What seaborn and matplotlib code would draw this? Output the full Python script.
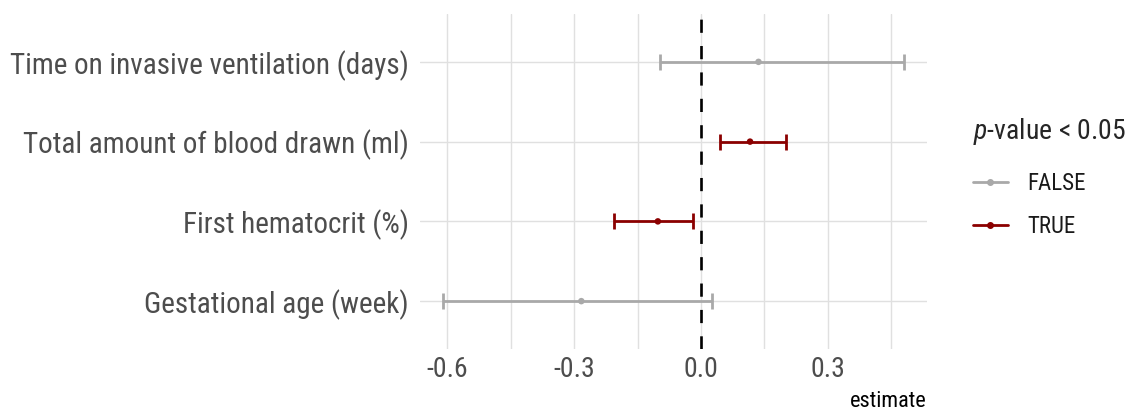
import numpy as np
import pandas as pd
import seaborn as sns
import matplotlib.pyplot as plt
from matplotlib import font_manager
from matplotlib.lines import Line2D

# Data, bottom row first
variables = [
    "Gestational age (week)",
    "First hematocrit (%)",
    "Total amount of blood drawn (ml)",
    "Time on invasive ventilation (days)",
]
estimate = [-0.283, -0.102, 0.116, 0.136]
conf_low = [-0.610, -0.205, 0.046, -0.096]
conf_high = [0.025, -0.018, 0.201, 0.480]
significant = [False, True, True, False]

x_ticks = [-0.6, -0.3, 0.0, 0.3]
x_tick_labels = ["-0.6", "-0.3", "0.0", "0.3"]

df = pd.DataFrame({
    "term": variables,
    "estimate": estimate,
    "low": conf_low,
    "high": conf_high,
    "sig": ["TRUE" if s else "FALSE" for s in significant],
})
df["ypos"] = np.arange(len(df))

sns.set_theme(style="white")
names = {f.name for f in font_manager.fontManager.ttflist}
family = next((n for n in ["Roboto Condensed", "Liberation Sans Narrow", "Roboto"] if n in names),
              "DejaVu Sans")
plt.rcParams["font.family"] = [family, "DejaVu Sans"]
plt.rcParams["mathtext.fontset"] = "custom"
plt.rcParams["mathtext.it"] = f"{family}:italic"
plt.rcParams["mathtext.rm"] = family

COLORS = {"FALSE": "#a9a9a9", "TRUE": "#8b0000"}

fig = plt.figure(figsize=(11.37, 4.13), dpi=100)
ax = fig.add_axes([420 / 1137, 1 - 349 / 413, 507 / 1137, 335 / 413])

# grid: major + minor
for v in np.arange(-0.6, 0.51, 0.15):
    ax.axvline(v, color="#e0e0e0", lw=1.0, zorder=0)
for yv in df["ypos"]:
    ax.axhline(yv, color="#e0e0e0", lw=1.0, zorder=0)

ax.axvline(0, color="black", lw=1.9, linestyle=(0, (5, 5)), zorder=1)

for sig, sub in df.groupby("sig"):
    ax.errorbar(
        sub["estimate"], sub["ypos"],
        xerr=[sub["estimate"] - sub["low"], sub["high"] - sub["estimate"]],
        fmt="none", ecolor=COLORS[sig], elinewidth=2.0, capsize=5.5, capthick=2.0, zorder=2,
    )
sns.scatterplot(data=df, x="estimate", y="ypos", hue="sig", palette=COLORS,
                s=22, linewidth=0, legend=False, ax=ax, zorder=3)

ax.set_xlim(-0.6645, 0.5345)
ax.set_ylim(-0.6, len(df) - 0.4)
ax.set_xticks(x_ticks)
ax.set_xticklabels(x_tick_labels)
ax.set_yticks(df["ypos"])
ax.set_yticklabels(df["term"])
ax.tick_params(axis="y", length=0, pad=8, labelsize=21, labelcolor="#4d4d4d")
ax.tick_params(axis="x", length=0, pad=5, labelsize=20, labelcolor="#4d4d4d")
ax.set_ylabel("")
ax.set_xlabel("estimate", loc="right", fontsize=16, color="black", labelpad=6)
for s in ax.spines.values():
    s.set_visible(False)

handles = [
    Line2D([0], [0], color=COLORS[k], lw=2, marker="o", markersize=4, label=k)
    for k in ["FALSE", "TRUE"]
]
leg = fig.legend(handles=handles, title="$\\it{p}$-value < 0.05", loc="upper left",
                 bbox_to_anchor=(952 / 1137, 1 - 95 / 413), frameon=False,
                 fontsize=16.5, title_fontsize=20, handlelength=1.53, handletextpad=0.87,
                 labelspacing=0.88, alignment="left")
leg._legend_box.sep = 0.88 * 16.5 + 3.6  # a bit more room under the title
for t in leg.get_texts():
    t.set_color("#1a1a1a")

fig.savefig("out.png", dpi=100)
